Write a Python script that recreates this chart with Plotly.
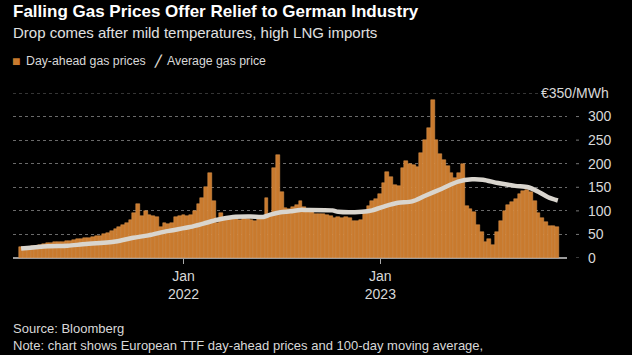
import pandas as pd
import plotly.graph_objects as go

# ---------------- data ----------------
week_start = "2021-03-06"
day_ahead_prices = [
    24, 24, 24, 25, 25, 27, 29, 31, 32, 33,
    34, 34, 36, 37, 39, 40, 41, 43, 43, 45,
    46, 47, 50, 53, 57, 61, 65, 70, 74, 80,
    95, 115, 90, 99, 92, 90, 88, 66, 75, 72,
    74, 88, 90, 92, 90, 92, 100, 115, 128, 150,
    180, 120, 75, 96, 80, 82, 84, 82, 80, 84,
    82, 80, 78, 82, 85, 128, 92, 190, 218, 140,
    106, 105, 108, 112, 120, 108, 100, 98, 94, 93,
    94, 92, 90, 85, 86, 84, 86, 84, 78, 78,
    80, 100, 110, 120, 126, 135, 160, 182, 172, 155,
    152, 190, 205, 200, 198, 194, 222, 250, 275, 336,
    250, 220, 208, 195, 180, 170, 180, 200, 110, 105,
    98, 70, 55, 35, 40, 28, 55, 78, 100, 112,
    118, 126, 136, 142, 144, 140, 120, 95, 84, 76,
    68, 68, 65,
]
avg_dates = [
    "2021-03-06", "2021-04-25", "2021-05-31", "2021-06-28", "2021-08-28",
    "2021-09-30", "2021-10-28", "2021-12-02", "2022-01-14", "2022-02-07",
    "2022-03-05", "2022-04-03", "2022-05-05", "2022-05-29", "2022-06-11",
    "2022-06-30", "2022-07-18", "2022-08-05", "2022-08-15", "2022-10-04",
    "2022-10-15", "2022-11-28", "2022-12-17", "2023-01-10", "2023-02-03",
    "2023-03-01", "2023-03-25", "2023-04-25", "2023-05-25", "2023-06-20",
    "2023-07-10", "2023-08-07", "2023-09-08", "2023-10-02", "2023-10-20",
    "2023-11-08", "2023-11-26",
]
avg_prices = [
    20, 25, 26, 29, 35,
    43, 48, 57, 66, 73,
    81, 87, 88, 87, 92,
    97, 99, 102, 102, 101,
    98, 98, 101, 110, 117,
    120, 132, 147, 162, 167,
    166, 159, 153, 150, 141,
    129, 122,
]
y_tick_vals = [0, 50, 100, 150, 200, 250, 300]
y_top_value = 350
y_top_label = "€350/MWh"
x_tick_vals = ["2022-01-01", "2023-01-01"]
x_tick_text = ["Jan<br>2022", "Jan<br>2023"]
x_range = ["2021-02-19", "2023-12-13"]

title = "Falling Gas Prices Offer Relief to German Industry"
subtitle = "Drop comes after mild temperatures, high LNG imports"
legend_bar = "Day-ahead gas prices"
legend_line = "Average gas price"
source = "Source: Bloomberg"
note = "Note: chart shows European TTF day-ahead prices and 100-day moving average,"

# ---------------- styling ----------------
W, H = 632, 355
L, R, T, B = 13, 65, 93, 97
plot_w = W - L - R
plot_h = H - T - B
FONT = "Liberation Sans"
BAR_COLOR = "rgb(200,122,46)"
BAR_EDGE = "rgb(224,152,82)"
LINE_COLOR = "#d9d5ce"
TEXT = "#d8d8d8"


def py(p):
    return (H - B - p) / plot_h


def px(p):
    return (p - L) / plot_w


week_dates = pd.date_range(week_start, periods=len(day_ahead_prices), freq="7D")

fig = go.Figure()
fig.add_trace(go.Bar(
    x=week_dates, y=day_ahead_prices,
    width=7 * 24 * 3600 * 1000,
    marker=dict(color=BAR_COLOR, line=dict(color=BAR_EDGE, width=0.5)),
    name=legend_bar, showlegend=False,
))
fig.add_trace(go.Scatter(
    x=avg_dates, y=avg_prices, mode="lines",
    line=dict(color=LINE_COLOR, width=4.5, shape="spline", smoothing=0.8),
    name=legend_line, showlegend=False,
))

shapes = []
# top gridline (stops before unit label)
shapes.append(dict(type="line", xref="paper", yref="y", x0=0, x1=px(539),
                   y0=y_top_value, y1=y_top_value,
                   line=dict(color="#6a6a6a", width=1, dash="dot")))
for v in y_tick_vals:
    shapes.append(dict(type="line", xref="paper", yref="y", x0=px(576), x1=px(579),
                       y0=v, y1=v, line=dict(color="#777", width=1)))

annotations = []


def add_text(text, x_px, y_px, size, color=TEXT, bold=False, xanchor="left"):
    annotations.append(dict(
        text=f"<b>{text}</b>" if bold else text,
        xref="paper", yref="paper", x=px(x_px), y=py(y_px),
        xanchor=xanchor, yanchor="middle", showarrow=False,
        font=dict(family=FONT, size=size, color=color),
    ))


add_text(title, 11, 12, 17, color="#ffffff", bold=True)
add_text(subtitle, 11, 32, 15, color="#e0e0e0")
add_text("■", 10, 61, 14, color=BAR_COLOR)
add_text(legend_bar, 24, 61, 12.3, color=TEXT)
add_text("╱", 152, 61, 11, color=LINE_COLOR, bold=True)
add_text(legend_line, 165, 61, 12.3, color=TEXT)
add_text(y_top_label, 611, 93, 14, color=TEXT, xanchor="right")
add_text(source, 11, 328, 13, color=TEXT)
add_text(note, 11, 345, 13, color=TEXT)

fig.update_layout(
    width=W, height=H,
    margin=dict(l=L, r=R, t=T, b=B, pad=0),
    paper_bgcolor="#000000", plot_bgcolor="#000000",
    bargap=0,
    shapes=shapes,
    annotations=annotations,
    font=dict(family=FONT, color=TEXT, size=14),
    xaxis=dict(
        type="date", range=x_range,
        tickvals=x_tick_vals, ticktext=x_tick_text,
        ticks="outside", ticklen=5, tickcolor="#aaa", tickwidth=1,
        showgrid=False, zeroline=False, showline=False,
        tickfont=dict(family=FONT, size=14, color=TEXT),
    ),
    yaxis=dict(
        range=[0, y_top_value], side="right",
        tickvals=y_tick_vals, ticktext=[str(v) for v in y_tick_vals],
        showgrid=True, gridcolor="#6a6a6a", griddash="dot", gridwidth=1,
        zeroline=True, zerolinecolor="#9a9a9a", zerolinewidth=1.5,
        ticks="", ticklabelstandoff=20,
        tickfont=dict(family=FONT, size=14, color=TEXT),
    ),
)

fig.write_html(
    "out.html",
    config={"displayModeBar": False},
    post_script="document.body.style.margin='0px';document.body.style.background='#000';",
)
